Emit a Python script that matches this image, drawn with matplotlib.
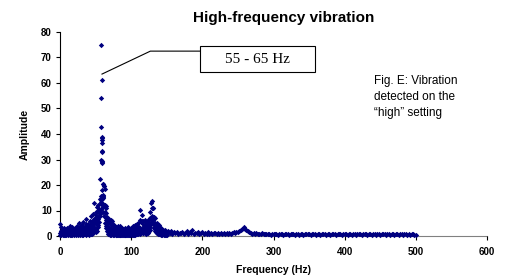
import matplotlib
matplotlib.use("Agg")
import matplotlib.pyplot as plt
from matplotlib.patches import Rectangle

# ---------------- data ----------------
freq_low = [0, 1, 2, 3, 4, 5, 6, 7, 8, 9, 10, 11, 12, 13, 14, 15, 16, 17, 18, 19,
            20, 21, 22, 23, 24, 25, 26, 27, 28, 29, 30, 31, 32, 33, 34, 35, 36, 37, 38, 39,
            40, 41, 42, 43, 44, 45, 46, 47, 48, 49, 50, 51, 52, 53, 54, 55, 56, 57, 58, 59,
            60, 61, 62, 63, 64, 65, 66, 67, 68, 69, 70, 71, 72, 73, 74, 75, 76, 77, 78, 79,
            80, 81, 82, 83, 84, 85, 86, 87, 88, 89, 90, 91, 92, 93, 94, 95, 96, 97, 98, 99,
            100, 101, 102, 103, 104, 105, 106, 107, 108, 109, 110, 111, 112, 113, 114, 115, 116, 117, 118, 119,
            120, 121, 122, 123, 124, 125, 126, 127, 128, 129, 130, 131, 132, 133, 134, 135, 136, 137, 138, 139,
            140, 141, 142, 143, 144, 145, 146, 147, 148, 149, 150]

amp_low_a = [4.8, 2.1, 3.5, 1.2, 2.8, 0.9, 3.2, 1.5, 2.4, 0.7,
             3.0, 1.8, 2.6, 0.8, 3.9, 1.4, 2.2, 3.6, 1.0, 2.9,
             1.6, 3.3, 0.9, 2.5, 4.1, 1.9, 3.0, 5.0, 2.2, 3.8,
             1.5, 4.4, 2.7, 5.4, 3.1, 2.0, 4.6, 6.6, 3.4, 2.8,
             4.9, 3.6, 6.0, 4.2, 7.8, 5.1, 8.6, 6.3, 13.0, 7.2,
             9.4, 8.1, 11.2, 9.8, 12.3, 10.4, 14.6, 12.8, 15.6, 18.2,
             20.5, 16.0, 19.5, 12.0, 11.8, 8.9, 7.4, 6.8, 5.9, 6.6,
             5.2, 6.1, 4.4, 5.7, 3.9, 4.8, 3.1, 4.0, 2.6, 3.5,
             2.2, 3.8, 1.9, 2.9, 4.1, 2.4, 1.8, 3.2, 2.0, 2.7,
             1.6, 3.0, 2.3, 1.4, 2.8, 3.5, 1.9, 2.5, 1.2, 2.1,
             3.2, 1.7, 2.6, 3.9, 2.2, 4.3, 2.8, 3.6, 4.8, 3.1,
             5.2, 3.7, 6.3, 10.2, 5.4, 8.4, 4.6, 5.9, 3.8, 6.1,
             4.5, 5.3, 3.6, 4.9, 6.4, 5.0, 7.2, 9.5, 13.0, 13.6,
             11.0, 10.8, 7.6, 6.9, 5.2, 4.7, 3.9, 5.1, 3.3, 4.2,
             2.6, 3.4, 2.1, 2.9, 1.8, 2.4, 1.5, 2.2, 1.9, 1.3,
             1.7]

amp_low_b = [1.2, 0.4, 2.0, 0.6, 1.5, 2.6, 0.5, 1.9, 0.8, 2.3,
             0.6, 2.4, 1.1, 1.7, 0.5, 2.8, 0.9, 1.3, 2.1, 0.7,
             2.4, 0.8, 1.8, 1.2, 0.6, 2.9, 1.4, 0.9, 3.2, 1.1,
             2.5, 0.7, 1.6, 2.2, 1.0, 3.4, 1.3, 2.6, 0.9, 4.0,
             1.8, 2.7, 1.2, 3.5, 2.3, 4.4, 2.9, 5.2, 3.6, 6.0,
             4.8, 6.2, 5.5, 7.4, 6.6, 9.0, 10.1, 13.5, 14.3, 29.0,
             15.1, 11.5, 12.2, 9.6, 7.1, 6.2, 4.9, 3.5, 2.6, 3.3,
             1.9, 2.8, 1.3, 2.2, 1.0, 1.8, 2.5, 0.9, 1.5, 1.2,
             0.7, 1.4, 0.9, 1.6, 0.5, 1.3, 0.8, 1.1, 0.6, 1.5,
             0.9, 0.5, 1.2, 0.8, 1.0, 0.6, 1.4, 0.7, 1.6, 0.9,
             1.3, 0.8, 1.5, 1.1, 0.9, 1.8, 1.2, 2.0, 1.4, 2.3,
             1.7, 2.6, 2.0, 3.0, 2.4, 6.0, 2.7, 3.3, 2.1, 3.6,
             2.5, 3.0, 2.2, 3.4, 2.8, 4.1, 3.5, 7.0, 6.4, 10.9,
             7.4, 6.6, 4.4, 3.6, 2.9, 2.3, 3.1, 2.0, 2.5, 1.7,
             1.4, 1.9, 1.1, 1.6, 1.0, 1.3, 0.8, 1.2, 0.9, 0.7,
             1.0]

amp_low_c = [0.3, 1.0, 0.6, 1.4, 0.2, 0.9, 1.6, 0.4, 1.1, 0.5,
             1.3, 0.3, 0.8, 1.5, 0.6, 0.2, 1.2, 0.5, 0.9, 1.4,
             0.4, 1.1, 0.3, 0.7, 1.6, 0.5, 0.9, 1.3, 0.4, 0.8,
             1.2, 0.3, 0.9, 0.5, 1.5, 0.7, 0.4, 1.0, 1.8, 0.6,
             1.1, 0.5, 1.7, 0.9, 1.3, 0.6, 2.0, 1.2, 1.6, 2.4,
             1.5, 2.9, 2.1, 3.7, 4.2, 5.6, 8.0, 9.2, 10.5, 14.8,
             12.4, 9.4, 7.9, 5.1, 4.0, 3.0, 2.1, 1.4, 0.8, 1.2,
             0.5, 0.9, 0.3, 0.7, 0.4, 0.6, 0.2, 0.8, 0.5, 0.3,
             0.4, 0.2, 0.6, 0.3, 0.9, 0.2, 0.5, 0.4, 0.3, 0.7,
             0.3, 0.6, 0.2, 0.5, 0.4, 0.2, 0.7, 0.3, 0.5, 0.4,
             0.6, 0.3, 0.8, 0.4, 0.5, 0.7, 0.3, 0.9, 0.6, 1.0,
             0.8, 1.2, 0.7, 1.5, 1.1, 1.9, 1.3, 1.0, 1.6, 1.2,
             1.4, 0.9, 1.7, 1.1, 1.5, 1.8, 2.2, 4.5, 5.0, 7.8,
             6.2, 5.0, 3.1, 2.6, 1.8, 1.5, 1.1, 1.3, 0.9, 0.7,
             0.6, 0.9, 0.5, 0.8, 0.4, 0.6, 0.3, 0.7, 0.5, 0.4,
             0.5]

# stacked points of the 55-65 Hz resonance
peak_freq = [57.8, 58.5, 58.3, 58.2, 58.8, 59.0, 58.6, 58.4, 59.2, 58.9,
             58.3, 59.0, 58.6, 56.4, 60.5, 62.0, 63.5, 61.0, 60.2, 59.5,
             58.0, 61.5, 63.0, 64.5]
peak_amp = [75.0, 61.3, 54.0, 42.7, 39.0, 38.5, 37.5, 36.5, 33.5, 33.0,
            30.0, 29.5, 28.5, 22.5, 20.5, 19.5, 18.5, 15.5, 15.0, 14.5,
            12.5, 12.0, 11.5, 11.0]

freq_high = [152, 154, 156, 158, 160, 162, 164, 166, 168, 170,
             172, 174, 176, 178, 180, 182, 184, 186, 188, 190,
             192, 194, 196, 198, 200, 202, 204, 206, 208, 210,
             212, 214, 216, 218, 220, 222, 224, 226, 228, 230,
             232, 234, 236, 238, 240, 242, 244, 246, 248, 250,
             252, 254, 256, 258, 260, 262, 264, 266, 268, 270,
             272, 274, 276, 278, 280, 282, 284, 286, 288, 290,
             292, 294, 296, 298, 300, 302, 304, 306, 308, 310,
             312, 314, 316, 318, 320, 322, 324, 326, 328, 330,
             332, 334, 336, 338, 340, 342, 344, 346, 348, 350,
             352, 354, 356, 358, 360, 362, 364, 366, 368, 370,
             372, 374, 376, 378, 380, 382, 384, 386, 388, 390,
             392, 394, 396, 398, 400, 402, 404, 406, 408, 410,
             412, 414, 416, 418, 420, 422, 424, 426, 428, 430,
             432, 434, 436, 438, 440, 442, 444, 446, 448, 450,
             452, 454, 456, 458, 460, 462, 464, 466, 468, 470,
             472, 474, 476, 478, 480, 482, 484, 486, 488, 490,
             492, 494, 496, 498, 500]
amp_high = [1.8, 1.2, 2.1, 0.9, 1.5, 1.1, 1.7, 0.8, 1.3, 1.0,
            1.6, 0.9, 1.2, 1.9, 0.7, 1.4, 1.1, 2.2, 0.9, 1.3,
            1.0, 1.7, 0.8, 1.2, 1.5, 0.7, 1.1, 0.9, 1.4, 0.8,
            1.2, 0.7, 1.0, 1.3, 0.6, 1.1, 0.8, 1.2, 0.7, 1.0,
            0.9, 1.3, 0.6, 1.0, 0.8, 1.2, 1.5, 1.1, 1.7, 1.4,
            1.9, 2.2, 2.6, 3.4, 2.9, 2.4, 1.8, 1.5, 1.2, 0.9,
            1.1, 0.8, 1.0, 0.7, 0.9, 0.6, 1.0, 0.8, 0.7, 0.9,
            0.6, 0.8, 0.5, 0.9, 0.7, 0.6, 0.8, 0.5, 0.7, 0.6,
            0.8, 0.5, 0.7, 0.9, 0.6, 0.5, 0.8, 0.6, 0.7, 0.5,
            0.9, 0.6, 0.5, 0.7, 0.8, 0.5, 0.6, 0.9, 0.6, 0.7,
            0.5, 0.8, 0.6, 0.7, 0.5, 0.9, 0.6, 0.5, 0.8, 0.6,
            0.7, 0.5, 0.6, 0.8, 0.5, 0.7, 0.6, 0.9, 0.5, 0.6,
            0.8, 0.6, 0.5, 0.7, 0.6, 0.8, 0.5, 0.6, 0.7, 0.5,
            0.6, 0.8, 0.5, 0.7, 0.9, 0.6, 0.5, 0.7, 0.6, 0.8,
            0.5, 0.6, 0.7, 0.5, 0.8, 0.6, 0.5, 0.7, 0.6, 0.5,
            0.8, 0.6, 0.7, 0.5, 0.6, 0.8, 0.5, 0.7, 0.6, 0.5,
            0.7, 0.6, 0.5, 0.8, 0.6, 0.5, 0.7, 0.6, 0.5, 0.6,
            0.5, 0.7, 0.6, 0.5, 0.4]

x_ticks = [0, 100, 200, 300, 400, 500, 600]
y_ticks = [0, 10, 20, 30, 40, 50, 60, 70, 80]

title = "High-frequency vibration"
x_label = "Frequency (Hz)"
y_label = "Amplitude"
callout_text = "55 - 65 Hz"
note_text = "Fig. E: Vibration\ndetected on the\n\u201chigh\u201d setting"

# callout geometry (data units)
callout_line_x = [59, 127, 197]
callout_line_y = [63.5, 72.5, 72.5]
callout_box = (197, 64.3, 161, 10.2)  # x, y, width, height

# ---------------- drawing ----------------
plt.rcParams['font.family'] = ['Liberation Sans', 'DejaVu Sans']
navy = '#000080'

fig = plt.figure(figsize=(5.05, 2.8), dpi=100)
ax = fig.add_axes([60 / 505, 44 / 280, 427 / 505, 204 / 280])

mk = dict(marker='D', s=7.5, color=navy, linewidths=0, zorder=3, clip_on=False)
ax.scatter(freq_low, amp_low_a, **mk)
ax.scatter(freq_low, amp_low_b, **mk)
ax.scatter(freq_low, amp_low_c, **mk)
ax.scatter(peak_freq, peak_amp, **mk)
ax.scatter(freq_high, amp_high, **mk)

ax.set_xlim(0, 600)
ax.set_ylim(0, 80)
ax.set_xticks(x_ticks)
ax.set_yticks(y_ticks)
ax.set_xticklabels([str(v) for v in x_ticks], fontsize=7, fontweight='bold')
ax.set_yticklabels([str(v) for v in y_ticks], fontsize=7, fontweight='bold')
ax.tick_params(axis='x', direction='out', length=3, width=0.8, pad=5, colors='black')
ax.tick_params(axis='y', direction='out', length=3, width=0.8, pad=3, colors='black')

for s in ['top', 'right']:
    ax.spines[s].set_visible(False)
ax.spines['left'].set_color('black')
ax.spines['left'].set_linewidth(0.8)
ax.spines['bottom'].set_color('#808080')
ax.spines['bottom'].set_linewidth(0.8)
ax.spines['bottom'].set_zorder(1)

ax.set_xlabel(x_label, fontsize=7.5, fontweight='bold', labelpad=6)
ax.set_ylabel(y_label, fontsize=7.5, fontweight='bold', labelpad=8)

fig.text(284 / 505, 1 - 18 / 280, title, ha='center', va='center',
         fontsize=11, fontweight='bold')

# callout
ax.plot(callout_line_x, callout_line_y, color='black', lw=0.8, zorder=4, clip_on=False)
bx, by, bw, bh = callout_box
ax.add_patch(Rectangle((bx, by), bw, bh, facecolor='white', edgecolor='black',
                       lw=0.8, zorder=4, clip_on=False))
ax.text(bx + bw / 2, by + bh / 2, callout_text, ha='center', va='center',
        fontsize=11, family=['Liberation Serif', 'DejaVu Serif'], zorder=5)

fig.text(374 / 505, 1 - 75 / 280, note_text, ha='left', va='top',
         fontsize=8.5, linespacing=1.45)

fig.savefig('out.png', dpi=100)
